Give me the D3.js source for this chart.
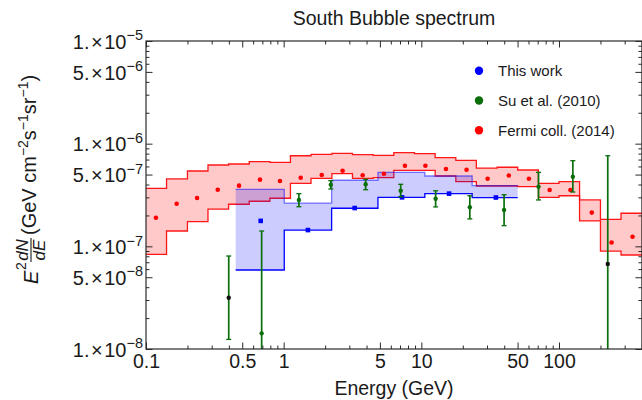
<!DOCTYPE html>
<html>
<head>
<meta charset="utf-8">
<script src="https://cdn.jsdelivr.net/npm/d3@7"></script>
<style>
  html, body { margin: 0; padding: 0; background: #fff; }
  svg { display: block; font-family: "Liberation Sans", Arial, sans-serif; }
</style>
</head>
<body>
<svg id="chart" width="642" height="400"></svg>
<script>
// ---------------- DATA ----------------
// Fermi collaboration (2014): bin edges, points and band
const fermiEdges = [0.1, 0.141, 0.2, 0.282, 0.398, 0.562, 0.794, 1.12, 1.58, 2.24, 3.16, 4.47, 6.31, 8.91, 12.6, 17.8, 25.1, 35.5, 50.1, 70.8, 100, 141, 200, 282, 400];
const fermiE = [0.118, 0.167, 0.235, 0.332, 0.474, 0.673, 0.94, 1.33, 1.89, 2.68, 3.75, 5.35, 7.6, 10.7, 15.1, 21.3, 30.3, 43.2, 60.4, 85.5, 121, 173, 241, 342];
const fermiFlux = [1.90e-7, 2.60e-7, 2.96e-7, 3.56e-7, 3.90e-7, 4.46e-7, 4.33e-7, 4.66e-7, 4.95e-7, 5.45e-7, 4.92e-7, 5.10e-7, 6.10e-7, 6.10e-7, 5.67e-7, 5.58e-7, 4.56e-7, 4.90e-7, 4.56e-7, 3.54e-7, 3.54e-7, 2.13e-7, 1.09e-7, 1.24e-7];
const fermiHi = [3.67e-7, 4.53e-7, 5.42e-7, 6.20e-7, 6.34e-7, 6.67e-7, 6.58e-7, 7.63e-7, 7.88e-7, 8.05e-7, 7.81e-7, 7.70e-7, 8.17e-7, 7.99e-7, 7.30e-7, 6.89e-7, 5.79e-7, 5.89e-7, 5.54e-7, 4.11e-7, 4.26e-7, 2.83e-7, 1.83e-7, 2.10e-7];
const fermiLo = [8.36e-8, 1.41e-7, 1.74e-7, 2.30e-7, 2.57e-7, 2.75e-7, 2.94e-7, 4.11e-7, 4.60e-7, 5.10e-7, 4.60e-7, 4.66e-7, 5.50e-7, 5.50e-7, 4.84e-7, 4.26e-7, 3.87e-7, 3.87e-7, 3.81e-7, 3.00e-7, 3.11e-7, 1.77e-7, 9.00e-8, 8.23e-8];

// This work
const thisEdges = [0.448, 1.01, 2.23, 4.84, 10.6, 23.4, 50.1];
const thisE = [0.681, 1.50, 3.28, 7.24, 15.9, 34.8];
const thisFlux = [1.77e-7, 1.44e-7, 2.36e-7, 3.00e-7, 3.26e-7, 2.99e-7];
const thisHi = [3.59e-7, 2.64e-7, 4.40e-7, 5.26e-7, 4.84e-7, 3.91e-7];
const thisLo = [5.88e-8, 1.44e-7, 2.35e-7, 3.00e-7, 3.26e-7, 2.98e-7];

// Su et al. (2010)
const suE = [0.399, 0.692, 1.29, 2.20, 3.94, 7.08, 12.7, 22.5, 39.9, 71.0, 126, 226];
const suFlux = [3.16e-8, 1.42e-8, 2.83e-7, 3.98e-7, 4.02e-7, 3.48e-7, 2.91e-7, 2.40e-7, 2.26e-7, 3.81e-7, 4.77e-7, 6.73e-8];
const suHi = [8.05e-8, 1.41e-7, 3.26e-7, 4.36e-7, 4.50e-7, 4.02e-7, 3.48e-7, 3.11e-7, 3.18e-7, 5.26e-7, 6.83e-7, 7.63e-7];
const suLo = [1.24e-8, 1e-9, 2.43e-7, 3.62e-7, 3.56e-7, 3.04e-7, 2.42e-7, 1.85e-7, 1.59e-7, 2.83e-7, 3.38e-7, 1e-9];

// Ticks
const xTickValues = [0.1, 0.5, 1, 5, 10, 50, 100];
const xTickLabels = ["0.1", "0.5", "1", "5", "10", "50", "100"];
const xMinorValues = [0.2, 0.3, 0.4, 0.6, 0.7, 0.8, 0.9, 2, 3, 4, 6, 7, 8, 9, 20, 30, 40, 60, 70, 80, 90, 200, 300, 400];
const yTickValues = [1e-8, 5e-8, 1e-7, 5e-7, 1e-6, 5e-6, 1e-5];
const yTickMantissa = ["1.", "5.", "1.", "5.", "1.", "5.", "1."];
const yTickExponent = ["\u22128", "\u22128", "\u22127", "\u22127", "\u22126", "\u22126", "\u22125"];
const yMinorValues = [2e-8, 3e-8, 4e-8, 6e-8, 7e-8, 8e-8, 9e-8, 2e-7, 3e-7, 4e-7, 6e-7, 7e-7, 8e-7, 9e-7, 2e-6, 3e-6, 4e-6, 6e-6, 7e-6, 8e-6, 9e-6];

const legendLabels = ["This work", "Su et al. (2010)", "Fermi coll. (2014)"];

// ---------------- CHART ----------------
const svg = d3.select("#chart");
const L = 146, R = 641.9, T = 41, B = 349;
const x = d3.scaleLog().domain([0.1, 400]).range([L, R]);
const y = d3.scaleLog().domain([1e-8, 1e-5]).range([B, T]);

const RED = "#ff0000", BLUE = "#0000ff", GREEN = "#0a6e0a";
const FRAME = "#2a2a2a", TEXT = "#1a1a1a";

svg.append("defs").append("clipPath").attr("id", "plotclip")
  .append("rect").attr("x", L).attr("y", T).attr("width", R - L).attr("height", B - T);

const plot = svg.append("g").attr("clip-path", "url(#plotclip)");

function steps(edges, hi, lo) {
  const pts = [];
  for (let i = 0; i < hi.length; i++) {
    pts.push({ e: edges[i], hi: hi[i], lo: lo[i] });
    pts.push({ e: edges[i + 1], hi: hi[i], lo: lo[i] });
  }
  return pts;
}
const area = d3.area().x(d => x(d.e)).y0(d => y(d.lo)).y1(d => y(d.hi));
const lineHi = d3.line().x(d => x(d.e)).y(d => y(d.hi));
const lineLo = d3.line().x(d => x(d.e)).y(d => y(d.lo));

// Fermi band
const fermiSteps = steps(fermiEdges, fermiHi, fermiLo);
plot.append("path").datum(fermiSteps).attr("d", area).attr("fill", "rgba(255,0,0,0.21)");
plot.append("path").datum(fermiSteps).attr("d", lineHi).attr("fill", "none").attr("stroke", RED).attr("stroke-width", 1.3).attr("stroke-opacity", 0.9);
plot.append("path").datum(fermiSteps).attr("d", lineLo).attr("fill", "none").attr("stroke", RED).attr("stroke-width", 1.3).attr("stroke-opacity", 0.9);

// This work band
const thisSteps = steps(thisEdges, thisHi, thisLo);
plot.append("path").datum(thisSteps).attr("d", area).attr("fill", "rgba(0,0,255,0.2)");
plot.append("path").datum(thisSteps).attr("d", lineHi).attr("fill", "none").attr("stroke", BLUE).attr("stroke-width", 1.3).attr("stroke-opacity", 0.5);
plot.append("path").datum(thisSteps).attr("d", lineLo).attr("fill", "none").attr("stroke", BLUE).attr("stroke-width", 1.3);

// Fermi points
plot.selectAll("circle.fermi").data(fermiE).enter().append("circle")
  .attr("class", "fermi")
  .attr("cx", d => x(d)).attr("cy", (d, i) => y(fermiFlux[i])).attr("r", 2.3).attr("fill", RED);

// This work points
plot.selectAll("rect.thisw").data(thisE).enter().append("rect")
  .attr("class", "thisw")
  .attr("x", d => x(d) - 2.3).attr("y", (d, i) => y(thisFlux[i]) - 2.3)
  .attr("width", 4.6).attr("height", 4.6).attr("fill", BLUE);

// Su et al. error bars and points
const su = plot.selectAll("g.su").data(suE).enter().append("g").attr("class", "su");
su.append("line")
  .attr("x1", d => x(d)).attr("x2", d => x(d))
  .attr("y1", (d, i) => y(suHi[i])).attr("y2", (d, i) => y(suLo[i]))
  .attr("stroke", GREEN).attr("stroke-width", 1.7);
su.append("line")
  .attr("x1", d => x(d) - 2.5).attr("x2", d => x(d) + 2.5)
  .attr("y1", (d, i) => y(suHi[i])).attr("y2", (d, i) => y(suHi[i]))
  .attr("stroke", GREEN).attr("stroke-width", 1.3);
su.append("line")
  .attr("x1", d => x(d) - 2.5).attr("x2", d => x(d) + 2.5)
  .attr("y1", (d, i) => y(suLo[i])).attr("y2", (d, i) => y(suLo[i]))
  .attr("stroke", GREEN).attr("stroke-width", 1.3);
su.append("circle")
  .attr("cx", d => x(d)).attr("cy", (d, i) => y(suFlux[i])).attr("r", 2.2)
  .attr("fill", (d, i) => (i === 0 || i === suE.length - 1) ? "#111" : GREEN);

// ---------------- AXES / FRAME ----------------
const axes = svg.append("g");
// bottom
axes.append("g").attr("transform", `translate(0,${B})`)
  .call(d3.axisBottom(x).tickValues(xMinorValues).tickSize(-3.5).tickSizeOuter(0).tickFormat(""))
  .call(g => g.select(".domain").remove());
axes.append("g").attr("transform", `translate(0,${B})`)
  .call(d3.axisBottom(x).tickValues(xTickValues).tickSize(-6.5).tickSizeOuter(0).tickPadding(6)
    .tickFormat((d, i) => xTickLabels[i]))
  .call(g => g.select(".domain").remove())
  .call(g => g.selectAll("text").attr("font-size", 19.5).attr("fill", TEXT).attr("dy", "0.78em").attr("y", 4));
// top
axes.append("g").attr("transform", `translate(0,${T})`)
  .call(d3.axisTop(x).tickValues(xMinorValues).tickSize(-3.5).tickSizeOuter(0).tickFormat(""))
  .call(g => g.select(".domain").remove());
axes.append("g").attr("transform", `translate(0,${T})`)
  .call(d3.axisTop(x).tickValues(xTickValues).tickSize(-6.5).tickSizeOuter(0).tickFormat(""))
  .call(g => g.select(".domain").remove());
// left
axes.append("g").attr("transform", `translate(${L},0)`)
  .call(d3.axisLeft(y).tickValues(yMinorValues).tickSize(-3.5).tickSizeOuter(0).tickFormat(""))
  .call(g => g.select(".domain").remove());
const yAx = axes.append("g").attr("transform", `translate(${L},0)`)
  .call(d3.axisLeft(y).tickValues(yTickValues).tickSize(-6.5).tickSizeOuter(0).tickPadding(3).tickFormat(""))
  .call(g => g.select(".domain").remove());
yAx.selectAll(".tick text").each(function (d, i) {
  const t = d3.select(this).attr("font-size", 20).attr("fill", TEXT).attr("dy", "0.36em");
  t.append("tspan").text(yTickMantissa[i]);
  t.append("tspan").attr("dx", 1.5).text("\u00d7");
  t.append("tspan").attr("dx", 1.5).text("10");
  t.append("tspan").attr("font-size", 14.5).attr("dy", -8.5).text(yTickExponent[i]);
});
// right
axes.append("g").attr("transform", `translate(${R},0)`)
  .call(d3.axisRight(y).tickValues(yMinorValues).tickSize(-3.5).tickSizeOuter(0).tickFormat(""))
  .call(g => g.select(".domain").remove());
axes.append("g").attr("transform", `translate(${R},0)`)
  .call(d3.axisRight(y).tickValues(yTickValues).tickSize(-6.5).tickSizeOuter(0).tickFormat(""))
  .call(g => g.select(".domain").remove());
axes.selectAll(".tick line").attr("stroke", FRAME).attr("stroke-width", 1);

svg.append("rect").attr("x", L).attr("y", T).attr("width", R - L).attr("height", B - T)
  .attr("fill", "none").attr("stroke", FRAME).attr("stroke-width", 1.2);

// ---------------- TEXT ----------------
svg.append("text").attr("x", 394).attr("y", 25).attr("text-anchor", "middle")
  .attr("font-size", 19.5).attr("fill", TEXT).text("South Bubble spectrum");

svg.append("text").attr("x", 394).attr("y", 395).attr("text-anchor", "middle")
  .attr("font-size", 19.5).attr("fill", TEXT).text("Energy (GeV)");

// y-axis label (rotated)
const yl = svg.append("g").attr("transform", "translate(36,0) rotate(-90)").attr("fill", TEXT);
yl.append("text").attr("x", -284).attr("y", 2).attr("font-size", 20).attr("font-style", "italic").text("E");
yl.append("text").attr("x", -270).attr("y", -10).attr("font-size", 14).text("2");
yl.append("text").attr("x", -250).attr("y", -8).attr("text-anchor", "middle").attr("font-size", 17).attr("font-style", "italic").text("dN");
yl.append("line").attr("x1", -262).attr("x2", -238).attr("y1", -5).attr("y2", -5).attr("stroke", TEXT).attr("stroke-width", 1.1);
yl.append("text").attr("x", -250).attr("y", 8.5).attr("text-anchor", "middle").attr("font-size", 17).attr("font-style", "italic").text("dE");
const pl = yl.append("text").attr("x", -235).attr("y", 0).attr("font-size", 20);
pl.append("tspan").text("(GeV cm");
pl.append("tspan").attr("font-size", 14).attr("dy", -8.5).text("\u22122");
pl.append("tspan").attr("dy", 8.5).text("s");
pl.append("tspan").attr("font-size", 14).attr("dy", -8.5).text("\u22121");
pl.append("tspan").attr("dy", 8.5).text("sr");
pl.append("tspan").attr("font-size", 14).attr("dy", -8.5).text("\u22121");
pl.append("tspan").attr("dy", 8.5).text(")");

// legend
const legColors = [BLUE, GREEN, RED];
const leg = svg.append("g");
legendLabels.forEach((lab, i) => {
  const cy = 70.7 + i * 29.8;
  leg.append("circle").attr("cx", 479).attr("cy", cy).attr("r", 4.2).attr("fill", legColors[i]);
  leg.append("text").attr("x", 498).attr("y", cy + 5.5).attr("font-size", 15).attr("fill", TEXT).text(lab);
});
</script>
</body>
</html>
